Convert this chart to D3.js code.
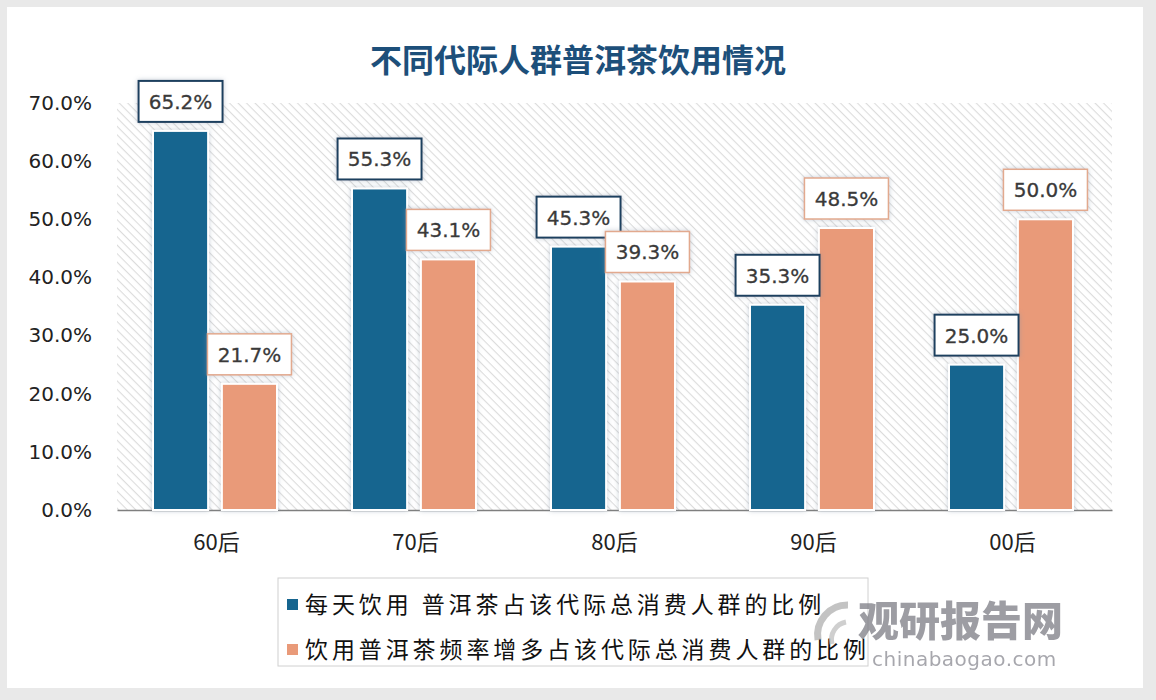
<!DOCTYPE html>
<html>
<head>
<meta charset="utf-8">
<script src="https://cdn.jsdelivr.net/npm/d3@7"></script>
<style>
  body { margin: 0; background: #e9e9e9; }
  svg { display: block; }
</style>
</head>
<body>
<div id="container"></div>
<script>
// chart data
const categories = ["60后", "70后", "80后", "90后", "00后"];
const seriesNames = ["每天饮用 普洱茶占该代际总消费人群的比例", "饮用普洱茶频率增多占该代际总消费人群的比例"];
const dailyValues = [0.652, 0.553, 0.453, 0.353, 0.25];
const moreOftenValues = [0.217, 0.431, 0.393, 0.485, 0.5];
const yTicks = [0, 0.1, 0.2, 0.3, 0.4, 0.5, 0.6, 0.7];
const title = "不同代际人群普洱茶饮用情况";

var width = 1156,
  height = 700;

const colors = ["#16658f", "#e99a79"];
const labelBorders = ["#1d3f5e", "#e2a98e"];

const svg = d3
  .select("#container")
  .append("svg")
  .attr("width", width)
  .attr("height", height);

const defs = svg.append("defs");

// diagonal hatch for the plot background
const pattern = defs
  .append("pattern")
  .attr("id", "hatch")
  .attr("patternUnits", "userSpaceOnUse")
  .attr("width", 6)
  .attr("height", 6)
  .attr("patternTransform", "rotate(45)");
pattern.append("rect").attr("width", 6).attr("height", 6).attr("fill", "#ffffff");
pattern
  .append("line")
  .attr("x1", 0).attr("y1", 0)
  .attr("x2", 6).attr("y2", 0)
  .attr("stroke", "#dcdcdc")
  .attr("stroke-width", 2.2);

const shadow = defs.append("filter").attr("id", "shadow")
  .attr("x", "-20%").attr("y", "-20%").attr("width", "140%").attr("height", "140%");
shadow.append("feDropShadow")
  .attr("dx", 0).attr("dy", 0).attr("stdDeviation", 2.5)
  .attr("flood-color", "#7f8fa6").attr("flood-opacity", 0.45);

// white panel
svg.append("rect")
  .attr("x", 7).attr("y", 7)
  .attr("width", 1136).attr("height", 681)
  .attr("fill", "#ffffff");

const plot = { left: 117, right: 1112, top: 103, bottom: 510 };

const x0 = d3.scaleBand().domain(categories).range([plot.left, plot.right]);
const x1 = d3.scaleBand().domain([0, 1]).range([36, 160]).paddingInner(0.2);
const y = d3.scaleLinear().domain([0, 0.7]).range([plot.bottom, plot.top]);

svg.append("rect")
  .attr("x", plot.left).attr("y", plot.top)
  .attr("width", plot.right - plot.left).attr("height", plot.bottom - plot.top)
  .attr("fill", "url(#hatch)");

// title
svg.append("text")
  .text(title)
  .attr("x", 578).attr("y", 72)
  .attr("text-anchor", "middle")
  .attr("font-family", "Noto Sans CJK SC")
  .attr("font-weight", "bold")
  .attr("font-size", "32px")
  .attr("fill", "#1d4f7a");

// y axis labels
const yAxis = d3.axisLeft(y).tickValues(yTicks).tickFormat(d3.format(".1%")).tickSize(0).tickPadding(25);
svg.append("g")
  .attr("transform", `translate(${plot.left},0)`)
  .call(yAxis)
  .call(g => g.select(".domain").remove())
  .selectAll("text")
  .attr("font-family", "DejaVu Sans")
  .attr("font-size", "20px")
  .attr("fill", "#222");

// x axis
const xAxis = d3.axisBottom(x0).tickSize(0).tickPadding(24);
svg.append("g")
  .attr("transform", `translate(0,${plot.bottom})`)
  .call(xAxis)
  .call(g => g.select(".domain").attr("stroke", "#7f7f7f").attr("stroke-width", 1.5))
  .selectAll("text")
  .attr("font-family", "Noto Sans CJK SC")
  .attr("font-size", "22px")
  .attr("fill", "#222");

const rows = categories.map((c, i) => ({ cat: c, values: [dailyValues[i], moreOftenValues[i]] }));

const groups = svg.append("g").attr("id", "bars")
  .selectAll("g")
  .data(rows)
  .enter()
  .append("g")
  .attr("transform", d => `translate(${x0(d.cat)},0)`);

groups.selectAll("rect")
  .data(d => d.values.map((v, s) => ({ v, s })))
  .enter()
  .append("rect")
  .attr("x", d => x1(d.s))
  .attr("y", d => y(d.v))
  .attr("width", x1.bandwidth())
  .attr("height", d => y(0) - y(d.v))
  .attr("fill", d => colors[d.s])
  .attr("stroke", "#ffffff")
  .attr("stroke-width", 2)
  .attr("filter", "url(#shadow)");

// value labels
const labels = groups.selectAll("g.label")
  .data(d => d.values.map((v, s) => ({ v, s })))
  .enter()
  .append("g")
  .attr("class", "label")
  .attr("transform", d => `translate(${x1(d.s) + x1.bandwidth() / 2},${y(d.v) - 8})`);

labels.append("rect")
  .attr("x", -42).attr("y", -42)
  .attr("width", 84).attr("height", 41)
  .attr("fill", "#ffffff")
  .attr("stroke", d => labelBorders[d.s])
  .attr("stroke-width", d => d.s === 0 ? 2 : 1.5)
  .attr("filter", "url(#shadow)");

labels.append("text")
  .text(d => d3.format(".1%")(d.v))
  .attr("x", 0).attr("y", -14)
  .attr("text-anchor", "middle")
  .attr("font-family", "DejaVu Sans")
  .attr("font-size", "20px")
  .attr("fill", "#3a3a3a")
  .attr("stroke", "#3a3a3a")
  .attr("stroke-width", 0.3);

// legend
const legend = svg.append("g").attr("id", "legend");
legend.append("rect")
  .attr("x", 278).attr("y", 578)
  .attr("width", 590).attr("height", 88)
  .attr("fill", "#ffffff")
  .attr("stroke", "#d0d0d0");

legend.selectAll("rect.key")
  .data(seriesNames)
  .enter()
  .append("rect")
  .attr("class", "key")
  .attr("x", 287)
  .attr("y", (d, i) => 599 + i * 45)
  .attr("width", 11).attr("height", 11)
  .attr("fill", (d, i) => colors[i]);

legend.selectAll("text")
  .data(seriesNames)
  .enter()
  .append("text")
  .text(d => d)
  .attr("x", 305)
  .attr("y", (d, i) => 613 + i * 45)
  .attr("font-family", "Noto Sans CJK SC")
  .attr("font-size", "23px")
  .attr("letter-spacing", "3.9px")
  .attr("fill", "#111");

// watermark
const mark = svg.append("g").attr("id", "watermark").attr("opacity", 0.75);
mark.append("path")
  .attr("d", "M818,640 A30,30 0 0 1 848,605")
  .attr("fill", "none").attr("stroke", "#b0b0b0").attr("stroke-width", 7);
mark.append("path")
  .attr("d", "M832,644 A18,18 0 0 1 846,622")
  .attr("fill", "none").attr("stroke", "#c0c0c0").attr("stroke-width", 5);
mark.append("text")
  .text("观研报告网")
  .attr("x", 858).attr("y", 636)
  .attr("font-family", "Noto Sans CJK SC")
  .attr("font-weight", "900")
  .attr("font-size", "41px")
  .attr("fill", "#7d7d85");
mark.append("text")
  .text("chinabaogao.com")
  .attr("x", 872).attr("y", 666)
  .attr("font-family", "DejaVu Sans")
  .attr("font-size", "20px")
  .attr("letter-spacing", "0.5px")
  .attr("fill", "#8a8a92");
</script>
</body>
</html>
